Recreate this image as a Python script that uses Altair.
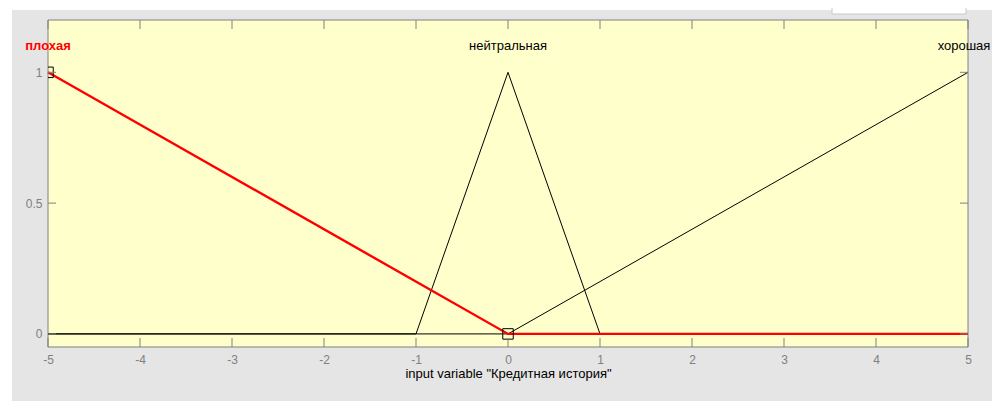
import altair as alt
import pandas as pd

# Membership functions (vertices)
poor_x = [-5, 0, 5]
poor_y = [1, 0, 0]
neutral_x = [-5, -1, 0, 1, 5]
neutral_y = [0, 0, 1, 0, 0]
good_x = [-5, 0, 5]
good_y = [0, 0, 1]

mf_names = ["плохая", "нейтральная", "хорошая"]
mf_label_x = [-5, 0, 5]
mf_label_y = [1.1, 1.1, 1.1]
mf_selected = [True, False, False]

handle_x = [-5, 0]
handle_y = [1, 0]

x_ticks = [-5, -4, -3, -2, -1, 0, 1, 2, 3, 4, 5]
y_ticks = [0, 0.5, 1]

W, H = 920, 327
FONT = "Liberation Sans"
GRAY = "#808080"

xs = alt.Scale(domain=[-5, 5], nice=False, zero=False)
ys = alt.Scale(domain=[-0.05, 1.2], nice=False, zero=False)

xaxis = alt.Axis(values=x_ticks, domain=False, ticks=False, grid=False,
                 labelExpr="'' + datum.value",
                 labelColor=GRAY, labelFont=FONT, labelFontSize=12, labelPadding=7,
                 title='input variable "Кредитная история"', titleFont=FONT,
                 titleFontSize=13, titleFontWeight="normal", titleColor="#000000",
                 titlePadding=2, zindex=1, labelFlush=False)
yaxis = alt.Axis(values=y_ticks, domain=False, ticks=False, grid=False,
                 labelExpr="'' + datum.value",
                 labelColor=GRAY, labelFont=FONT, labelFontSize=12, labelPadding=6,
                 title=None, zindex=1)

base_df = pd.DataFrame({"x": [0]})

gray_bg = alt.Chart(base_df).mark_rect(color="#e5e5e5").encode(
    x=alt.value(-36), x2=alt.value(960), y=alt.value(-10), y2=alt.value(400))
white_box = alt.Chart(base_df).mark_rect(fill="#ffffff", stroke="#c8c8c8", strokeWidth=1).encode(
    x=alt.value(784), x2=alt.value(918), y=alt.value(-20), y2=alt.value(-6))
plot_bg = alt.Chart(base_df).mark_rect(fill="#ffffcc", stroke=GRAY, strokeWidth=1).encode(
    x=alt.value(0), x2=alt.value(W), y=alt.value(0), y2=alt.value(H))

xt = pd.DataFrame({"x": x_ticks})
yt = pd.DataFrame({"y": y_ticks})
xtick_b = alt.Chart(xt).mark_rule(color=GRAY, strokeWidth=1).encode(
    x=alt.X("x:Q", scale=xs, axis=xaxis), y=alt.value(H), y2=alt.value(H - 9))
xtick_t = alt.Chart(xt).mark_rule(color=GRAY, strokeWidth=1).encode(
    x=alt.X("x:Q", scale=xs), y=alt.value(0), y2=alt.value(9))
ytick_l = alt.Chart(yt).mark_rule(color=GRAY, strokeWidth=1).encode(
    y=alt.Y("y:Q", scale=ys, axis=yaxis), x=alt.value(0), x2=alt.value(8))
ytick_r = alt.Chart(yt).mark_rule(color=GRAY, strokeWidth=1).encode(
    y=alt.Y("y:Q", scale=ys), x=alt.value(W), x2=alt.value(W - 8))


def mf_line(xv, yv, color, width):
    df = pd.DataFrame({"x": xv, "y": yv, "o": list(range(len(xv)))})
    return alt.Chart(df).mark_line(color=color, strokeWidth=width, clip=False).encode(
        x=alt.X("x:Q", scale=xs), y=alt.Y("y:Q", scale=ys), order="o:O")


neutral_line = mf_line(neutral_x, neutral_y, "#000000", 1)
good_line = mf_line(good_x, good_y, "#000000", 1)
poor_line = mf_line(poor_x, poor_y, "#ff0000", 2.4)

handles = alt.Chart(pd.DataFrame({"x": handle_x, "y": handle_y})).mark_point(
    shape="square", filled=False, color="#000000", size=110, strokeWidth=1, opacity=1,
    clip=True).encode(
    x=alt.X("x:Q", scale=xs), y=alt.Y("y:Q", scale=ys))

labels_df = pd.DataFrame({"x": mf_label_x, "y": mf_label_y, "name": mf_names, "sel": mf_selected})
sel_labels = alt.Chart(labels_df.iloc[[0]]).mark_text(
    font=FONT, fontSize=13, fontWeight="bold", color="#ff0000", baseline="middle", align="center").encode(
    x=alt.X("x:Q", scale=xs), y=alt.Y("y:Q", scale=ys), text="name:N")
mid_label = alt.Chart(labels_df.iloc[[1]]).mark_text(
    font=FONT, fontSize=13, color="#000000", baseline="middle", align="center").encode(
    x=alt.X("x:Q", scale=xs), y=alt.Y("y:Q", scale=ys), text="name:N")
right_label = alt.Chart(labels_df.iloc[[2]]).mark_text(
    font=FONT, fontSize=13, color="#000000", baseline="middle", align="center", dx=-4).encode(
    x=alt.X("x:Q", scale=xs), y=alt.Y("y:Q", scale=ys), text="name:N")

chart = alt.layer(
    gray_bg, white_box, plot_bg,
    neutral_line, good_line, poor_line, handles,
    xtick_b, xtick_t, ytick_l, ytick_r, sel_labels, mid_label, right_label,
).properties(
    width=W, height=H,
    autosize=alt.AutoSizeParams(type="none"),
    padding={"left": 40, "top": 12, "right": 24, "bottom": 54},
    background="#ffffff",
).configure_view(stroke=None, fill=None)

chart.save("out.html", embed_options={"renderer": "svg", "actions": False})
